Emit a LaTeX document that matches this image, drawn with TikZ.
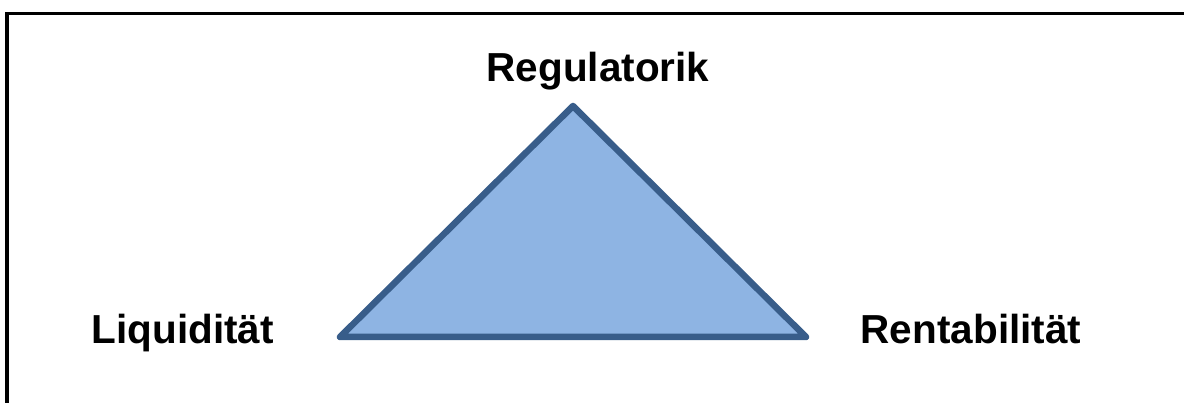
\documentclass[tikz,border=0pt]{standalone}
\usepackage{fontspec}
\setmainfont{Liberation Sans}
\definecolor{trifill}{HTML}{8EB4E3}
\definecolor{tristroke}{HTML}{385D8A}
\begin{document}
\begin{tikzpicture}[x=1pt,y=1pt,
  lbl/.style={font=\fontsize{40.5}{45}\selectfont\bfseries, inner sep=0pt, anchor=base},
  frame/.style={line width=3.2pt, black},
  tri/.style={line width=6.5pt, draw=tristroke, fill=trifill, line join=round, line cap=round}]
\useasboundingbox (0,0) rectangle (1184,403);
\coordinate (fl) at (7,0);
\coordinate (ftl) at (7,389.5);
\coordinate (ftr) at (1184,389.5);
\draw[frame] (fl) -- (ftl) -- (ftr);
\coordinate (A) at (573,297);
\coordinate (B) at (340,66);
\coordinate (C) at (806,66);
\draw[tri] (A) -- (B) -- (C) -- cycle;
\node[lbl] (reg) at (598,321.3) {Regulatorik};
\node[lbl] (liq) at (182.7,59.7) {Liquidität};
\node[lbl] (ren) at (971,59.7) {Rentabilität};
\end{tikzpicture}
\end{document}
